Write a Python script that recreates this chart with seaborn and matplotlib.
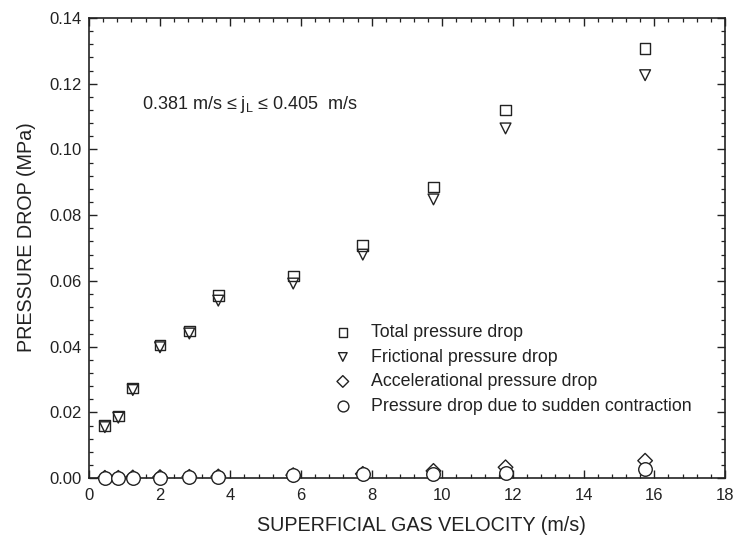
import matplotlib
matplotlib.use("Agg")
import matplotlib.pyplot as plt
from matplotlib.ticker import MultipleLocator, FormatStrFormatter
import numpy as np
import pandas as pd
import seaborn as sns

# --- data ---
gas_velocity = [0.45, 0.83, 1.24, 2.01, 2.84, 3.66, 5.78, 7.75, 9.75, 11.79, 15.74]
total_dp = [0.0161, 0.0189, 0.0274, 0.0405, 0.0448, 0.0555, 0.0615, 0.0708, 0.0886, 0.1120, 0.1308]
frictional_dp = [0.0155, 0.0184, 0.0268, 0.0398, 0.0440, 0.0540, 0.0592, 0.0680, 0.0848, 0.1064, 0.1226]
accel_dp = [0.0001, 0.0001, 0.0002, 0.0003, 0.0004, 0.0005, 0.0009, 0.0013, 0.0022, 0.0033, 0.0053]
contraction_dp = [0.0, 0.0, 0.0, 0.0001, 0.0002, 0.0003, 0.0008, 0.0011, 0.0014, 0.0017, 0.0027]

series_names = ["Total pressure drop", "Frictional pressure drop",
                "Accelerational pressure drop", "Pressure drop due to sudden contraction"]
series_values = [total_dp, frictional_dp, accel_dp, contraction_dp]
series_markers = ["s", "v", "D", "o"]
series_sizes = [60, 60, 55, 95]
series_faces = ["none", "none", "none", "white"]

df = pd.DataFrame({
    "velocity": gas_velocity * len(series_names),
    "dp": sum(series_values, []),
    "series": np.repeat(series_names, len(gas_velocity)),
})

# --- style ---
sns.set_style("ticks")
plt.rcParams["font.family"] = ["Liberation Sans", "DejaVu Sans"]
plt.rcParams["mathtext.fontset"] = "custom"
plt.rcParams["mathtext.rm"] = "Liberation Sans"
plt.rcParams["mathtext.it"] = "Liberation Sans"

ink = "#222222"
fig = plt.figure(figsize=(7.39, 5.36), dpi=100)
ax = fig.add_axes([0.1204, 0.108, 0.8606, 0.8584])

for i, (name, marker, size, face) in enumerate(zip(series_names, series_markers,
                                                  series_sizes, series_faces)):
    sub = df[df["series"] == name]
    sns.scatterplot(data=sub, x="velocity", y="dp", marker=marker, s=size,
                    facecolor=face, edgecolor=ink, linewidth=1.0,
                    label=name, ax=ax, clip_on=False, zorder=3 + i)

ax.set_xlim(0, 18)
ax.set_ylim(0, 0.14)
ax.xaxis.set_major_locator(MultipleLocator(2))
ax.xaxis.set_minor_locator(MultipleLocator(0.4))
ax.yaxis.set_major_locator(MultipleLocator(0.02))
ax.yaxis.set_minor_locator(MultipleLocator(0.004))
ax.yaxis.set_major_formatter(FormatStrFormatter("%.2f"))
ax.tick_params(which="both", direction="in", top=True, right=True,
               color=ink, labelsize=12, labelcolor=ink)
ax.tick_params(which="major", length=6, width=1.0)
ax.tick_params(which="minor", length=3, width=0.9)
ax.tick_params(axis="x", which="major", pad=7)
ax.tick_params(axis="y", which="major", pad=5)
for sp in ax.spines.values():
    sp.set_visible(True)
    sp.set_color(ink)
    sp.set_linewidth(1.2)

ax.set_xlabel("SUPERFICIAL GAS VELOCITY (m/s)", fontsize=14.2, color=ink)
ax.set_ylabel("PRESSURE DROP (MPa)", fontsize=14.2, color=ink)
ax.xaxis.set_label_coords(0.522, -0.083)
ax.yaxis.set_label_coords(-0.083, 0.524)

ax.text(1.5, 0.1137, "0.381 m/s ≤ j$_\\mathregular{L}$ ≤ 0.405  m/s",
        fontsize=13, color=ink, va="center", ha="left")

leg = ax.legend(loc="upper left", bbox_to_anchor=(0.36, 0.35), frameon=False,
                fontsize=12.8, handletextpad=0.6, labelspacing=0.42,
                markerscale=0.8, borderaxespad=0)
for t in leg.get_texts():
    t.set_color(ink)

fig.savefig("out.png", dpi=100)
